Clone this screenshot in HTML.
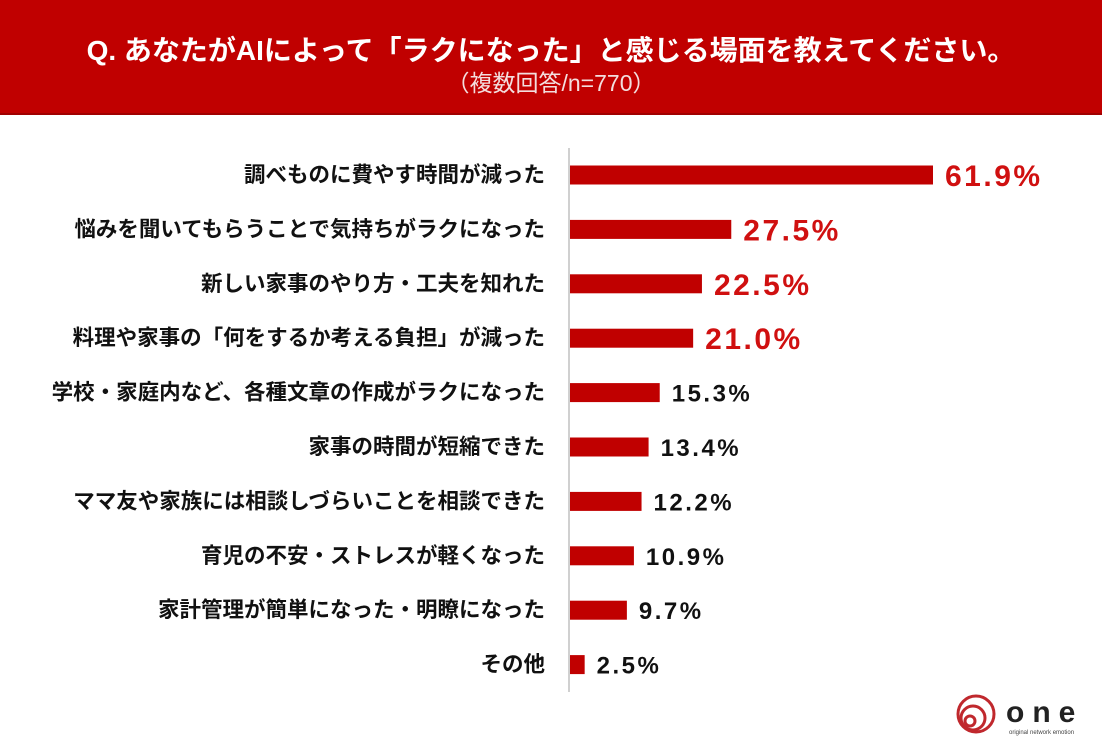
<!DOCTYPE html>
<html><head><meta charset="utf-8"><style>
body{margin:0;width:1102px;height:740px;background:#fff;overflow:hidden;position:relative;font-family:"Liberation Sans","Noto Sans CJK JP",sans-serif}
#hdr{position:absolute;left:0;top:0;width:1102px;height:113px;background:#c00000;border-bottom:2px solid #a00000;color:#fff;text-align:center}
#t1{position:absolute;top:29px;width:100%;font-size:28px;font-weight:bold}
#t2{position:absolute;top:64px;width:100%;font-size:23px;color:#f3dede}
svg{position:absolute;left:0;top:0}
</style></head><body>
<div id="hdr">
<div id="t1">Q. あなたがAIによって「ラクになった」と感じる場面を教えてください。</div>
<div id="t2">（複数回答/n=770）</div>
</div>
<svg id="c" width="1102" height="740"></svg>
<script>
const categories=["調べものに費やす時間が減った","悩みを聞いてもらうことで気持ちがラクになった","新しい家事のやり方・工夫を知れた","料理や家事の「何をするか考える負担」が減った","学校・家庭内など、各種文章の作成がラクになった","家事の時間が短縮できた","ママ友や家族には相談しづらいことを相談できた","育児の不安・ストレスが軽くなった","家計管理が簡単になった・明瞭になった","その他"];
const values=[61.9,27.5,22.5,21.0,15.3,13.4,12.2,10.9,9.7,2.5];
const valueLabels=["61.9%","27.5%","22.5%","21.0%","15.3%","13.4%","12.2%","10.9%","9.7%","2.5%"];
const NS="http://www.w3.org/2000/svg",svg=document.getElementById('c');
const x0=570,k=363/61.9,y0=175,step=54.4,bh=19;
const xs=v=>x0+v*k, ys=i=>y0+i*step;
function mk(t,a){const e=document.createElementNS(NS,t);for(const n in a)e.setAttribute(n,a[n]);svg.appendChild(e);return e;}
const ax=mk('line',{x1:569,y1:148,x2:569,y2:692,stroke:'#d0d0d0','stroke-width':2});


categories.forEach((c,i)=>{
 const y=ys(i);
 const l=mk('text',{x:545,y:y+7,'text-anchor':'end','font-size':21.5,'font-weight':'bold',fill:'#111'});l.textContent=c;
 
 
 const b=mk('rect',{x:x0,y:y-bh/2,width:xs(values[i])-x0,height:bh,fill:'#c00000'});
 
 
 const top=i<4;
 const v=mk('text',{x:xs(values[i])+12,y:y+(top?11:9),'font-size':top?30:24,'letter-spacing':top?2.5:2.5,'font-weight':'bold',fill:top?'#d01010':'#111'});v.textContent=valueLabels[i];
 
 
});
</script>
<svg width="1102" height="740" style="pointer-events:none">
<circle cx="976" cy="714" r="18" fill="none" stroke="#c0282d" stroke-width="3"/>
<circle cx="973" cy="718" r="12" fill="none" stroke="#c0282d" stroke-width="3"/>
<circle cx="970" cy="721" r="5" fill="none" stroke="#c0282d" stroke-width="3"/>
<text x="1006" y="722" font-size="30" font-weight="bold" fill="#222" letter-spacing="8" font-family="Liberation Sans,sans-serif">one</text>
<text x="1009" y="734" font-size="6" fill="#444" font-family="Liberation Sans,sans-serif">original network emotion</text>
</svg>
</body></html>
